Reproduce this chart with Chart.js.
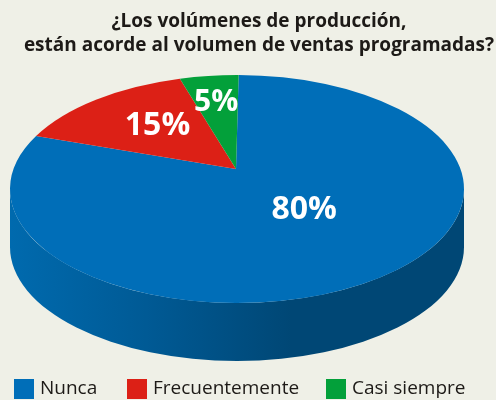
<!DOCTYPE html>
<html>
<head>
<meta charset="utf-8">
<script src="https://cdn.jsdelivr.net/npm/chart.js@4"></script>
<style>
  html, body { margin: 0; padding: 0; background: #eff0e7; }
  #wrap { position: relative; width: 496px; height: 400px; overflow: hidden; }
  #legend { position: absolute; left: 0; top: 0; width: 496px; height: 400px; pointer-events: none; }
  .item { position: absolute; top: 379px; height: 20px; font: 19px/20px "Open Sans", sans-serif; color: #1d1a17; white-space: nowrap; }
  .swatch { position: absolute; left: 0; top: 0; width: 20px; height: 20px; }
  .name { position: absolute; left: 26px; top: -2px; }
</style>
</head>
<body>
<div id="wrap">
  <canvas id="myChart" width="496" height="400"></canvas>
  <div id="legend"></div>
</div>
<script>
const categories = ['Nunca', 'Frecuentemente', 'Casi siempre'];
const shares = [80, 15, 5];
const sliceColors = ['#006eb8', '#dc2016', '#03a03a'];
const titleLines = ['¿Los volúmenes de producción,', 'están acorde al volumen de ventas programadas?'];

// ellipse of the top face, the apex sits above its centre
const pie = { cx: 237, cy: 189, rx: 227, ry: 114, depth: 58, apexX: 236, apexY: 169, skew: 0.17 };
// how far along apex -> rim each % label goes, pixel nudge, and its font size
const labelReach = [0.44, 0.57, 0.74];
const labelNudgeX = [2, 0, 0];
const labelNudgeY = [-6, -3, 2];
const labelSize = [32, 32, 30];
const legendLeft = [14, 127, 326];

// library angle (0 = 3 o'clock) to canvas ellipse angle, pulled towards the apex side
function rimAngle(a) {
  const phi = a + Math.PI / 2;
  return phi - pie.skew * Math.sin(phi) - Math.PI / 2;
}

const pie3d = {
  id: 'pie3d',
  beforeDatasetDraw(chart) {
    const ctx = chart.ctx;
    const arcs = chart.getDatasetMeta(0).data;

    // side wall
    const grad = ctx.createLinearGradient(pie.cx - pie.rx, 0, pie.cx + pie.rx, 0);
    grad.addColorStop(0, '#006aae');
    grad.addColorStop(0.3, '#005a95');
    grad.addColorStop(0.62, '#004775');
    grad.addColorStop(1, '#004775');
    ctx.save();
    ctx.fillStyle = grad;
    ctx.beginPath();
    ctx.ellipse(pie.cx, pie.cy, pie.rx, pie.ry, 0, 0, Math.PI);
    ctx.lineTo(pie.cx - pie.rx, pie.cy + pie.depth);
    ctx.ellipse(pie.cx, pie.cy + pie.depth, pie.rx, pie.ry, 0, Math.PI, 0, true);
    ctx.closePath();
    ctx.fill();

    // top face, one wedge per arc element
    arcs.forEach((arc, i) => {
      const p = arc.getProps(['startAngle', 'endAngle'], true);
      ctx.fillStyle = sliceColors[i];
      ctx.beginPath();
      ctx.moveTo(pie.apexX, pie.apexY);
      ctx.ellipse(pie.cx, pie.cy, pie.rx, pie.ry, 0, rimAngle(p.startAngle), rimAngle(p.endAngle));
      ctx.closePath();
      ctx.fill();
    });
    ctx.restore();
    return false;
  },
  afterDatasetsDraw(chart) {
    const ctx = chart.ctx;
    ctx.save();
    ctx.fillStyle = '#fff';
    ctx.textAlign = 'center';
    ctx.textBaseline = 'middle';
    chart.getDatasetMeta(0).data.forEach((arc, i) => {
      const p = arc.getProps(['startAngle', 'endAngle'], true);
      const mid = rimAngle((p.startAngle + p.endAngle) / 2);
      const rimX = pie.cx + pie.rx * Math.cos(mid);
      const rimY = pie.cy + pie.ry * Math.sin(mid);
      const t = labelReach[i];
      ctx.font = 'bold ' + labelSize[i] + 'px "Open Sans", sans-serif';
      ctx.fillText(shares[i] + '%',
        pie.apexX + (rimX - pie.apexX) * t + labelNudgeX[i],
        pie.apexY + (rimY - pie.apexY) * t + labelNudgeY[i]);
    });
    ctx.restore();
  }
};

const chart = new Chart(document.getElementById('myChart').getContext('2d'), {
  type: 'pie',
  data: {
    labels: categories,
    datasets: [{ data: shares, backgroundColor: sliceColors, borderWidth: 0 }]
  },
  options: {
    responsive: false,
    animation: false,
    rotation: 0.5,
    layout: { padding: { left: 22, top: 0 } },
    plugins: {
      legend: { display: false },
      tooltip: { enabled: false },
      title: {
        display: true,
        text: titleLines,
        color: '#1d1a17',
        font: { family: '"Open Sans", sans-serif', size: 19, weight: 'bold', lineHeight: 1.24 },
        padding: { top: 10, bottom: 10 }
      }
    }
  },
  plugins: [pie3d]
});

// legend with the reference's tight box-to-text gap
const legendBox = document.getElementById('legend');
chart.data.labels.forEach((name, i) => {
  const item = document.createElement('div');
  item.className = 'item';
  item.style.left = legendLeft[i] + 'px';
  item.innerHTML = '<span class="swatch" style="background:' + sliceColors[i] + '"></span><span class="name">' + name + '</span>';
  legendBox.appendChild(item);
});
</script>
</body>
</html>
